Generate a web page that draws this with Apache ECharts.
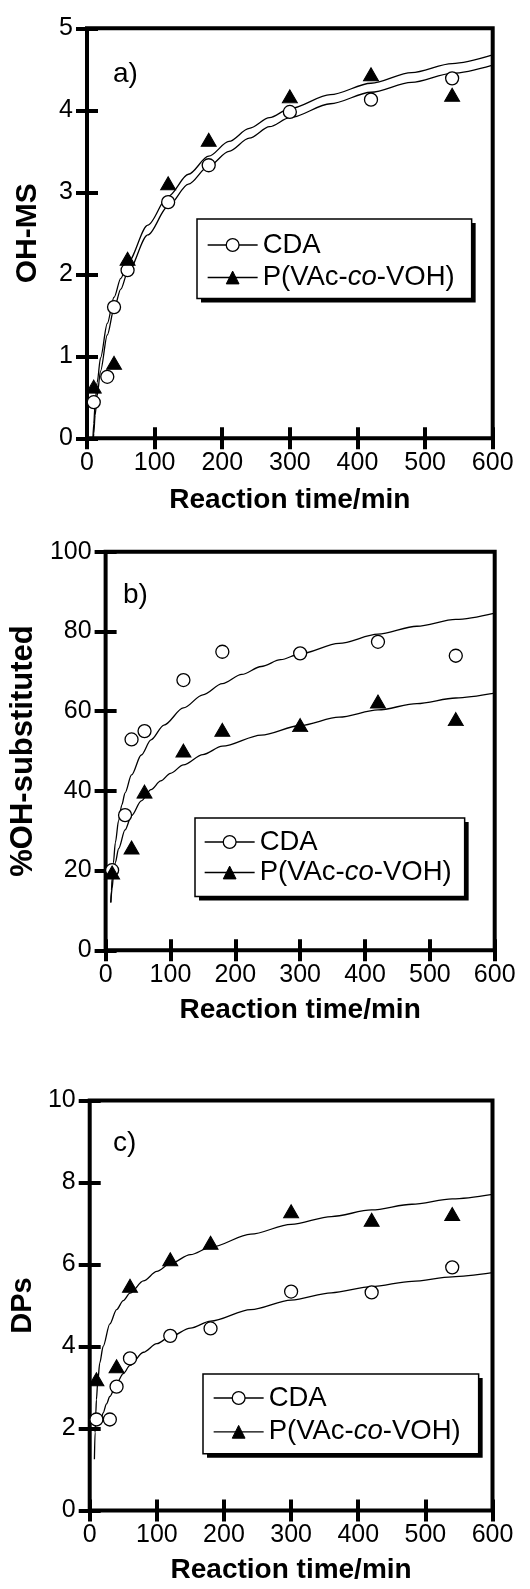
<!DOCTYPE html>
<html><head><meta charset="utf-8">
<script src="https://cdn.jsdelivr.net/npm/echarts@6/dist/echarts.min.js"></script>
<style>html,body{margin:0;padding:0;background:#fff;}#c{width:530px;height:1589px;}</style>
</head><body><div id="c"></div>
<script>
// ---------- data ----------
const timeCDA = [10, 30, 40, 60, 120, 180, 300, 420, 540];
const timePV  = [10, 40, 60, 120, 180, 300, 420, 540];
const ohmsCDA = [0.44, 0.75, 1.60, 2.05, 2.88, 3.33, 3.98, 4.13, 4.39];
const ohmsPV  = [0.63, 0.92, 2.19, 3.11, 3.64, 4.17, 4.44, 4.19];
const subCDA  = [20.1, 33.9, 52.9, 55.0, 67.8, 74.9, 74.5, 77.4, 73.9];
const subPV   = [19.5, 25.8, 39.8, 50.1, 55.3, 56.5, 62.4, 58.0];
const dpsCDA  = [2.22, 2.22, 3.02, 3.71, 4.26, 4.44, 5.34, 5.32, 5.93];
const dpsPV   = [3.20, 3.52, 5.48, 6.13, 6.53, 7.30, 7.09, 7.23];
// fitted curves, points [time, value]
const fitOhmsCDA = [[9.5,0],[10,0.06],[12,0.28],[15,0.52],[20,0.82],[30,1.26],[40,1.58],[50,1.82],[60,2.02],[90,2.48],[120,2.83],[150,3.1],[180,3.32],[210,3.5],[240,3.66],[270,3.8],[300,3.91],[360,4.08],[420,4.22],[480,4.34],[540,4.45],[600,4.55]];
const fitOhmsPV  = [[8.8,0],[10,0.18],[12,0.42],[15,0.68],[20,0.98],[30,1.4],[40,1.72],[50,1.95],[60,2.14],[90,2.6],[120,2.95],[150,3.22],[180,3.44],[210,3.62],[240,3.78],[270,3.91],[300,4.02],[360,4.19],[420,4.33],[480,4.46],[540,4.57],[600,4.675]];
const fitSubCDA  = [[8,12],[9,15],[10,18],[12,22],[15,27],[20,32.5],[25,36.5],[30,39.5],[40,44],[55,49],[70,52.8],[90,56.5],[120,60.8],[150,64.1],[180,66.9],[210,69.2],[240,71.2],[270,72.9],[300,74.4],[360,77],[420,79.3],[480,81.3],[540,83],[600,84.6]];
const fitSubPV   = [[8,12],[10,15.5],[12,18.5],[15,22],[20,25.5],[30,30.2],[40,33.8],[55,37.5],[70,40.3],[85,42.5],[100,44.4],[120,46.5],[150,49.1],[180,51.2],[240,54],[300,56.4],[360,58.5],[420,60.3],[480,61.9],[540,63.3],[600,64.5]];
const fitDpsCDA  = [[15,2.1],[17,2.22],[20,2.38],[25,2.6],[30,2.78],[40,3.1],[50,3.34],[60,3.54],[80,3.86],[100,4.07],[120,4.24],[150,4.45],[180,4.62],[240,4.9],[300,5.13],[360,5.31],[420,5.46],[480,5.59],[540,5.7],[600,5.8]];
const fitDpsPV   = [[7,1.25],[8,1.9],[9,2.35],[10,2.7],[12,3.15],[15,3.6],[20,4.0],[30,4.55],[40,4.9],[50,5.12],[60,5.3],[80,5.6],[100,5.83],[120,6.02],[150,6.24],[180,6.42],[240,6.74],[300,6.98],[360,7.17],[420,7.33],[480,7.47],[540,7.6],[600,7.71]];
const xTicks = [0, 600, 100];   // min, max, step
const seriesNames = ['CDA', 'P(VAc-co-VOH)'];
const xTitle = 'Reaction time/min';
const yTitles = ['OH-MS', '%OH-substituted', 'DPs'];
const panelLabels = ['a)', 'b)', 'c)'];
const yMax = [5, 100, 10];
const yStep = [1, 20, 2];

// ---------- layout / style ----------
const FONT = '"Liberation Sans", Arial, Helvetica, sans-serif';
const LFS = 27.5;
const layout = [
  {grid:{left:87, right:37.3, top:28.3, height:410}, yGap:44, ySize:30, xGap:48,
   lab:[113,60], leg:{left:197, top:219, padding:[12,17,7,10], itemGap:4.5}},
  {grid:{left:97.3, right:35.3, top:551.7, height:398.6}, yGap:56, ySize:31, xGap:46,
   lab:[123,581], leg:{left:195, top:818, padding:[10,13,10,9], itemGap:2.5}},
  {grid:{left:87, right:37.5, top:1100.5, height:410}, yGap:44, ySize:29, xGap:46,
   lab:[113,1129], leg:{left:203, top:1374, padding:[10,18,8,10], itemGap:5.8}}
];
const panelData = [
  {cda:ohmsCDA, pv:ohmsPV, fc:fitOhmsCDA, fp:fitOhmsPV},
  {cda:subCDA, pv:subPV, fc:fitSubCDA, fp:fitSubPV},
  {cda:dpsCDA, pv:dpsPV, fc:fitDpsCDA, fp:fitDpsPV}
];

const tick = {show:true, inside:true, length:11, lineStyle:{color:'#000', width:4}};
const grids=[], xAxes=[], yAxes=[], series=[], legends=[], titles=[];

function makeLegend(L, shadow) {
  const ink = shadow ? 'rgba(0,0,0,0)' : '#000';
  return {
    orient:'vertical', selectedMode:false, itemWidth:50, itemHeight:16,
    left: L.leg.left + (shadow ? 4 : 0), top: L.leg.top + (shadow ? 4 : 0),
    padding: L.leg.padding, itemGap: L.leg.itemGap,
    z: shadow ? 8 : 9,
    backgroundColor: shadow ? '#000' : '#fff',
    borderColor: shadow ? 'rgba(0,0,0,0)' : '#000', borderWidth: shadow ? 0 : 1.5,
    data:[
      {name:seriesNames[0], itemStyle:{color: shadow ? 'rgba(0,0,0,0)' : '#fff', borderColor:ink, borderWidth:1.3}},
      {name:seriesNames[1], itemStyle:{color:ink, borderColor:ink, borderWidth:1}}
    ],
    lineStyle:{color:ink, width:1.3, opacity:1},
    formatter: n => n === seriesNames[1] ? 'P(VAc-{i|co}-VOH)' : n,
    textStyle:{fontSize:LFS, color:ink, fontFamily:FONT, lineHeight:LFS,
      rich:{i:{fontStyle:'italic', fontSize:LFS, color:ink, fontFamily:FONT, lineHeight:LFS}}}
  };
}

layout.forEach((L, i) => {
  grids.push(Object.assign({show:true, borderColor:'#000', borderWidth:4, backgroundColor:'transparent'}, L.grid));
  xAxes.push({type:'value', gridIndex:i, min:xTicks[0], max:xTicks[1], interval:xTicks[2],
    axisLine:{show:false}, splitLine:{show:false}, axisTick:tick,
    axisLabel:{show:true, margin:12, fontSize:25, color:'#000', fontFamily:FONT},
    name:xTitle, nameLocation:'middle', nameGap:L.xGap,
    nameTextStyle:{fontSize:28, fontWeight:'bold', color:'#000', fontFamily:FONT}});
  xAxes.push({type:'value', gridIndex:i, position:'top', min:xTicks[0], max:xTicks[1], interval:xTicks[2],
    axisLine:{show:false}, splitLine:{show:false}, axisTick:tick, axisLabel:{show:false}});
  yAxes.push({type:'value', gridIndex:i, min:0, max:yMax[i], interval:yStep[i],
    axisLine:{show:false}, splitLine:{show:false}, axisTick:tick,
    axisLabel:{show:true, margin:14, fontSize:25, color:'#000', fontFamily:FONT},
    name:yTitles[i], nameLocation:'middle', nameGap:L.yGap,
    nameTextStyle:{fontSize:L.ySize, fontWeight:'bold', color:'#000', fontFamily:FONT}});
  yAxes.push({type:'value', gridIndex:i, position:'right', min:0, max:yMax[i], interval:yStep[i],
    axisLine:{show:false}, splitLine:{show:false}, axisTick:tick, axisLabel:{show:false}});
  titles.push({text:panelLabels[i], left:L.lab[0], top:L.lab[1], padding:0,
    textStyle:{fontSize:28, fontWeight:'normal', color:'#000', fontFamily:FONT}});
  legends.push(makeLegend(L, true), makeLegend(L, false));
});

panelData.forEach((P, i) => {
  series.push({name:seriesNames[0], type:'line', xAxisIndex:2*i, yAxisIndex:2*i,
    data: timeCDA.map((t,k) => [t, P.cda[k]]),
    symbol:'circle', symbolSize:13, showAllSymbol:true,
    itemStyle:{color:'#fff', borderColor:'#000', borderWidth:1.3},
    lineStyle:{opacity:0}, z:5});
  series.push({name:seriesNames[1], type:'line', xAxisIndex:2*i, yAxisIndex:2*i,
    data: timePV.map((t,k) => [t, P.pv[k]]),
    symbol:'triangle', symbolSize:[15,13], showAllSymbol:true,
    itemStyle:{color:'#000', borderColor:'#000', borderWidth:1},
    lineStyle:{opacity:0}, z:5});
});
panelData.forEach((P, i) => {
  series.push({name:'fitCDA'+i, type:'line', xAxisIndex:2*i, yAxisIndex:2*i, data:P.fc,
    symbol:'none', smooth:0.3, smoothMonotone:'x', lineStyle:{color:'#000', width:1.3}, z:2, silent:true});
  series.push({name:'fitPV'+i, type:'line', xAxisIndex:2*i, yAxisIndex:2*i, data:P.fp,
    symbol:'none', smooth:0.3, smoothMonotone:'x', lineStyle:{color:'#000', width:1.3}, z:2, silent:true});
});

const chart = echarts.init(document.getElementById('c'), null, {renderer:'canvas'});
chart.setOption({
  animation:false, backgroundColor:'#fff',
  title:titles, grid:grids, xAxis:xAxes, yAxis:yAxes, legend:legends, series:series
});
</script></body></html>
